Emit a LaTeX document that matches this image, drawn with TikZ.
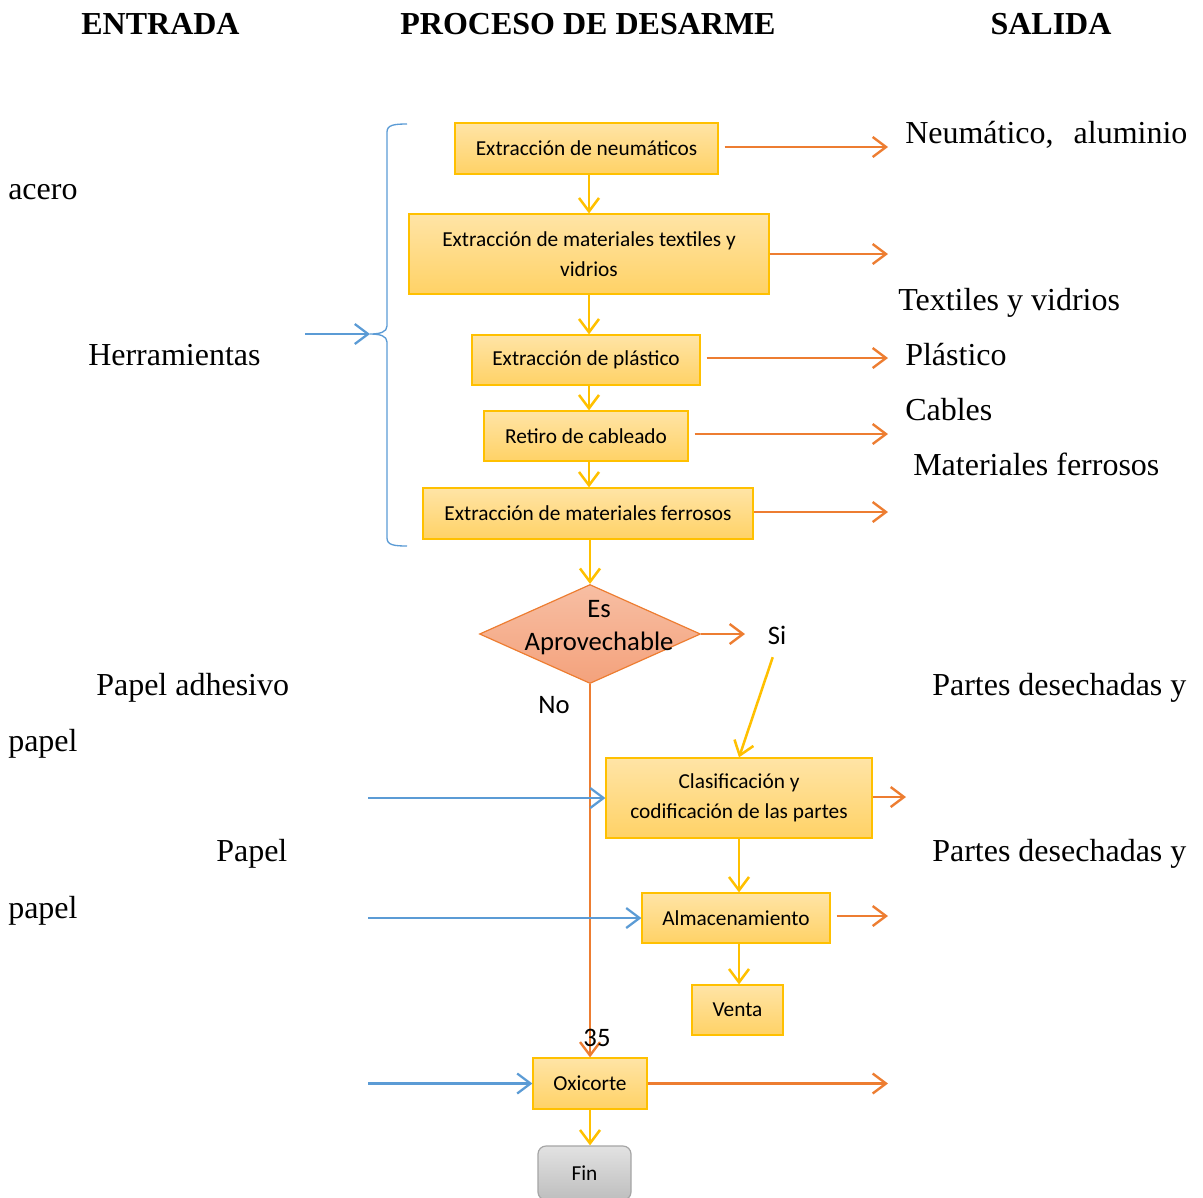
\documentclass[tikz,border=0pt]{standalone}
\usepackage{fontspec}
\setmainfont{Liberation Serif}
\newfontfamily\calfont{Carlito}
\usetikzlibrary{arrows.meta,shapes.geometric}
\definecolor{boxline}{HTML}{FFC000}
\definecolor{boxtop}{HTML}{FFE4A6}
\definecolor{boxbot}{HTML}{FFD266}
\definecolor{decline}{HTML}{ED7D31}
\definecolor{dectop}{HTML}{F7BEA3}
\definecolor{decbot}{HTML}{F4A27C}
\definecolor{yelc}{HTML}{FFC000}
\definecolor{orac}{HTML}{ED7D31}
\definecolor{bluc}{HTML}{5B9BD5}
\definecolor{fintop}{HTML}{E2E2E2}
\definecolor{finbot}{HTML}{BEBEBE}
\definecolor{finline}{HTML}{A5A5A5}
\tikzset{
  procbox/.style={draw=boxline, line width=0.9pt, top color=boxtop, bottom color=boxbot,
    font=\calfont\fontsize{16}{22.5}\selectfont, align=center, inner sep=0pt},
  bigtxt/.style={font=\fontsize{24}{28}\selectfont, inner sep=0pt, anchor=base west},
  headtxt/.style={font=\bfseries\fontsize{24}{28}\selectfont, inner sep=0pt, anchor=base},
  caltxt/.style={font=\calfont\fontsize{20}{24.75}\selectfont, inner sep=0pt, align=center},
  tipbarb/.style={-{Straight Barb[length=10pt,width=15pt]}},
  yarr/.style={draw=yelc, line width=1.9pt, tipbarb},
  oarr/.style={draw=orac, line width=1.8pt, tipbarb},
  barr/.style={draw=bluc, line width=1.7pt, tipbarb},
}
\begin{document}
\begin{tikzpicture}[x=0.75pt,y=-0.75pt]
\useasboundingbox (0,0) rectangle (1203,1197);

% headings
\node[headtxt] (hE) at (160.5,34) {ENTRADA};
\node[headtxt] (hP) at (588,34) {PROCESO DE DESARME};
\node[headtxt] (hS) at (1051,34) {SALIDA};

% process boxes
\node[procbox, minimum width=197.25pt, minimum height=38.25pt] (b1) at (586.5,148.5) {Extracción de neumáticos};
\node[procbox, minimum width=270pt, minimum height=60pt] (b2) at (589,254) {Extracción de materiales textiles y\\vidrios};
\node[procbox, minimum width=171pt, minimum height=37.5pt] (b3) at (586,360) {Extracción de plástico};
\node[procbox, minimum width=153pt, minimum height=37.5pt] (b4) at (586,436) {Retiro de cableado};
\node[procbox, minimum width=247.5pt, minimum height=38.25pt] (b5) at (588,513.5) {Extracción de materiales ferrosos};
\node[diamond, draw=decline, line width=0.9pt, top color=dectop, bottom color=decbot,
      minimum width=165.75pt, minimum height=74.25pt, inner sep=0pt] (dec) at (590,634) {};
\node[caltxt] (dect) at (599,628) {Es\\Aprovechable};
\node[caltxt] (si) at (777,635) {Si};
\node[caltxt] (no) at (554,705) {No};
\node[procbox, minimum width=199.5pt, minimum height=60pt] (b6) at (739,798) {Clasificación y\\codificación de las partes};
\node[procbox, minimum width=141pt, minimum height=37.5pt] (b7) at (736,918) {Almacenamiento};
\node[procbox, minimum width=68.25pt, minimum height=37.5pt] (b8) at (737.5,1010) {Venta};
\node[procbox, minimum width=85.5pt, minimum height=38.25pt] (b9) at (590,1083.5) {Oxicorte};
\node[draw=finline, line width=0.9pt, top color=fintop, bottom color=finbot, rounded corners=6pt,
      minimum width=69.75pt, minimum height=40.5pt, inner sep=0pt,
      font=\calfont\fontsize{16}{19}\selectfont] (fin) at (584.5,1173) {Fin};

% yellow flow
\draw[yarr] (b1.south -| b2.north) -- (b2.north);
\draw[yarr] (b2.south) -- (b2.south |- b3.north);
\draw[yarr] (b3.south -| b2.south) -- (b4.north -| b2.south);
\draw[yarr] (b4.south -| b2.south) -- (b5.north -| b2.south);
\draw[yarr] (b5.south -| dec.north) -- (dec.north);
\draw[yarr, shorten <=10pt] (si.south) -- (b6.north);
\draw[yarr] (b6.south) -- (b6.south |- b7.north);
\draw[yarr] (b7.south -| b6.south) -- (b8.north -| b6.south);
\draw[yarr] (b9.south) -- (b9.south |- fin.north);

% orange outputs
\coordinate (o1) at (888,147);
\coordinate (o2) at (888,254);
\coordinate (o3) at (888,358);
\coordinate (o4) at (888,434);
\coordinate (o5) at (888,512);
\coordinate (od) at (745,634);
\coordinate (o6) at (906,797);
\coordinate (o7) at (888,916);
\coordinate (o9) at (888,1083.5);
\draw[oarr] ([xshift=4.5pt]b1.east |- o1) -- (o1);
\draw[oarr] (b2.east |- o2) -- (o2);
\draw[oarr] ([xshift=4.5pt]b3.east |- o3) -- (o3);
\draw[oarr] ([xshift=4.5pt]b4.east |- o4) -- (o4);
\draw[oarr] (b5.east |- o5) -- (o5);
\draw[oarr] (dec.east) -- (od);
\draw[oarr] (b6.east |- o6) -- (o6);
\draw[oarr] ([xshift=4.5pt]b7.east |- o7) -- (o7);
\draw[oarr] (b9.east) -- (o9);
\draw[oarr] (dec.south) -- (b9.north);
\node[caltxt] (n35) at (597,1038) {35};

% blue brace and inputs
\coordinate (bracetip) at (370,334);
\draw[draw=bluc, line width=1pt]
  (407,124) .. controls (394,124) and (387,125) .. (387,132)
  -- (387,326) .. controls (387,332) and (380,334) .. (bracetip)
  .. controls (380,334) and (387,336) .. (387,342)
  -- (387,538) .. controls (387,545) and (394,546) .. (407,546);
\coordinate (h0) at (305,334);
\draw[barr] (h0) -- (bracetip);
\coordinate (i6) at (368,798);
\coordinate (i7) at (368,918);
\coordinate (i9) at (368,1083.5);
\draw[barr] (i6) -- (b6.west);
\draw[barr] (i7) -- (b7.west);
\draw[barr] (i9) -- (b9.west);

% texts
\node[bigtxt] (t1) at (905,143) {Neumático,\hspace{15pt}aluminio};
\node[bigtxt] (t2) at (8,199) {acero};
\node[bigtxt] (t3) at (898,310) {Textiles y vidrios};
\node[bigtxt] (t4) at (88,365) {Herramientas};
\node[bigtxt] (t5) at (905,365) {Plástico};
\node[bigtxt] (t6) at (905,420) {Cables};
\node[bigtxt] (t7) at (913,475) {Materiales ferrosos};
\node[bigtxt] (t8) at (96,695) {Papel adhesivo};
\node[bigtxt] (t9) at (932,695) {Partes desechadas y};
\node[bigtxt] (t10) at (8,751) {papel};
\node[bigtxt] (t11) at (216,861) {Papel};
\node[bigtxt] (t12) at (932,861) {Partes desechadas y};
\node[bigtxt] (t13) at (8,918) {papel};
\end{tikzpicture}
\end{document}
